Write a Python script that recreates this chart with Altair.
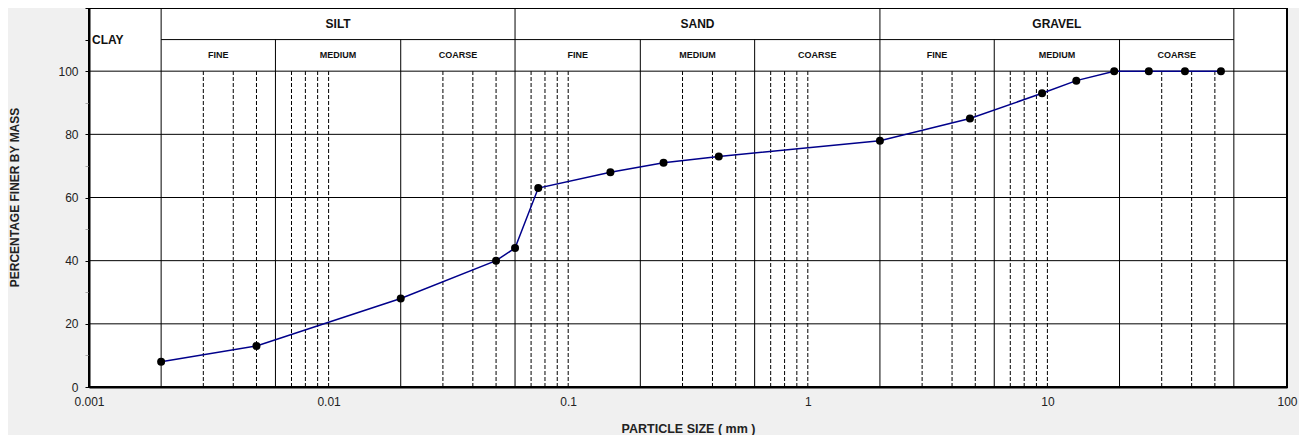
import altair as alt
import pandas as pd

FONT = "Liberation Sans"

# Grading curve (particle size in mm, percentage finer)
sizes = [0.002, 0.005, 0.02, 0.05, 0.06, 0.075, 0.15, 0.25, 0.425, 2.0,
         4.75, 9.5, 13.2, 19.0, 26.5, 37.5, 53.0]
passing = [8, 13, 28, 40, 44, 63, 68, 71, 73, 78, 85, 93, 97, 100, 100, 100, 100]

# Horizontal grid levels
grid_levels = [20, 40, 60, 80, 100]
# Boundaries spanning the whole header
main_bounds = [0.002, 0.06, 2, 60]
# Sub-fraction boundaries
sub_bounds = [0.006, 0.02, 0.2, 0.6, 6, 20]
# Dashed sieve lines
dashed_sizes = [0.003, 0.004, 0.005, 0.007, 0.008, 0.009, 0.01,
                0.03, 0.04, 0.05, 0.07, 0.08, 0.09, 0.1,
                0.3, 0.4, 0.5, 0.7, 0.8, 0.9, 1,
                3, 4, 5, 7, 8, 9, 10, 30, 40, 50]

main_names = ["SILT", "SAND", "GRAVEL"]
main_lo = [0.002, 0.06, 2]
main_hi = [0.06, 2, 60]
sub_names = ["FINE", "MEDIUM", "COARSE"] * 3
sub_lo = [0.002, 0.006, 0.02, 0.06, 0.2, 0.6, 2, 6, 20]
sub_hi = [0.006, 0.02, 0.06, 0.2, 0.6, 2, 6, 20, 60]

x_ticks = [0.001, 0.01, 0.1, 1, 10, 100]
y_ticks = list(range(0, 121, 10))

xscale = alt.Scale(type="log", domain=[0.001, 100], nice=False)
yscale = alt.Scale(domain=[0, 120], nice=False, zero=False)

xaxis = alt.Axis(values=x_ticks, format="~g", title="PARTICLE SIZE ( mm )",
                 grid=False, ticks=False, labelPadding=9, labelFontSize=12,
                 labelFont=FONT, labelColor="#222", titleFont=FONT,
                 titleFontSize=12.5, titleFontWeight="bold", titleColor="#222",
                 titlePadding=15, domainColor="black", domainWidth=2,
                 labelFlush=False, labelOverlap=False)
yaxis = alt.Axis(values=y_ticks,
                 labelExpr="(datum.value % 20 == 0 && datum.value <= 100) ? datum.label : ''",
                 title="PERCENTAGE FINER BY MASS", grid=False, tickSize=4,
                 tickColor={"condition": {"test": "datum.value % 20 == 0 || datum.value > 100",
                                          "value": "black"}, "value": "#aaaaaa"},
                 labelPadding=7, labelFontSize=12, labelFont=FONT, labelColor="#222",
                 titleFont=FONT, titleFontSize=12, titleFontWeight="bold",
                 titleColor="#222", titleAngle=-90, titleX=-75, titleY=189,
                 titleAlign="center", titleBaseline="middle",
                 domainColor="black", domainWidth=2,
                 labelFlush=False, labelOverlap=False)

X = lambda f: alt.X(f, scale=xscale, axis=xaxis)
Y = lambda f: alt.Y(f, scale=yscale, axis=yaxis)

hgrid = alt.Chart(pd.DataFrame({"y": grid_levels})).mark_rule(
    color="black", strokeWidth=1).encode(y=Y("y:Q"))

h110 = alt.Chart(pd.DataFrame({"x": [0.002], "x2": [60], "y": [110]})).mark_rule(
    color="black", strokeWidth=1).encode(x=X("x:Q"), x2="x2:Q", y=Y("y:Q"))

vmain = alt.Chart(pd.DataFrame({"x": main_bounds, "y0": 0, "y1": 120})).mark_rule(
    color="black", strokeWidth=1).encode(x=X("x:Q"), y=Y("y0:Q"), y2="y1:Q")

vsub = alt.Chart(pd.DataFrame({"x": sub_bounds, "y0": 0, "y1": 110})).mark_rule(
    color="black", strokeWidth=1).encode(x=X("x:Q"), y=Y("y0:Q"), y2="y1:Q")

vdash = alt.Chart(pd.DataFrame({"x": dashed_sizes, "y0": 0, "y1": 100})).mark_rule(
    color="black", strokeWidth=1, strokeDash=[4, 2]).encode(
    x=X("x:Q"), y=Y("y0:Q"), y2="y1:Q")

main_df = pd.DataFrame({"name": main_names, "lo": main_lo, "hi": main_hi})
main_df["xc"] = (main_df["lo"] * main_df["hi"]) ** 0.5
main_df["y"] = 115
sub_df = pd.DataFrame({"name": sub_names, "lo": sub_lo, "hi": sub_hi})
sub_df["xc"] = (sub_df["lo"] * sub_df["hi"]) ** 0.5
sub_df["y"] = 105

main_text = alt.Chart(main_df).mark_text(
    font=FONT, fontSize=12, fontWeight="bold", color="#111").encode(
    x=X("xc:Q"), y=Y("y:Q"), text="name:N")
sub_text = alt.Chart(sub_df).mark_text(
    font=FONT, fontSize=9, fontWeight="bold", color="#111").encode(
    x=X("xc:Q"), y=Y("y:Q"), text="name:N")
clay_text = alt.Chart(pd.DataFrame({"x": [0.001], "y": [110], "t": ["CLAY"]})).mark_text(
    font=FONT, fontSize=12, fontWeight="bold", color="#111", align="left", dx=3).encode(
    x=X("x:Q"), y=Y("y:Q"), text="t:N")

curve_df = pd.DataFrame({"size": sizes, "pass": passing})
line = alt.Chart(curve_df).mark_line(color="#00008B", strokeWidth=1.5).encode(
    x=X("size:Q"), y=Y("pass:Q"))
pts = alt.Chart(curve_df).mark_circle(color="black", size=64, opacity=1).encode(
    x=X("size:Q"), y=Y("pass:Q"))

chart = alt.layer(hgrid, h110, vmain, vsub, vdash, main_text, sub_text, clay_text,
                  line, pts).properties(
    width=1198, height=379,
    autosize=alt.AutoSizeParams(type="none"),
    padding={"left": 81, "top": 0, "right": 12, "bottom": 48},
    background="#f0f0f0",
).configure_view(stroke="black", strokeWidth=2, fill="white")

chart.save("out.html", embed_options={"renderer": "svg", "actions": False})
